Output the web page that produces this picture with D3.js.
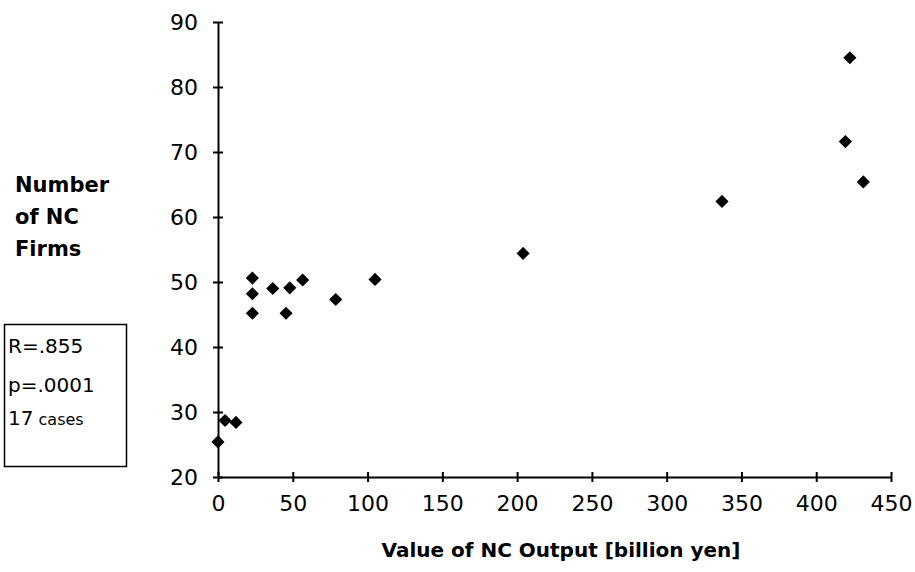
<!DOCTYPE html>
<html>
<head>
<meta charset="utf-8">
<script src="https://cdn.jsdelivr.net/npm/d3@7"></script>
<style>
  body { margin: 0; background: #fff; }
  text { fill: #000; }
</style>
</head>
<body>
<div id="main"></div>
<script>
const ctx = {
    w: 915,
    h: 572,
};

// valeurs (milliards de yens, nombre d'entreprises)
const outputValues = [23, 23, 23, 36.6, 48, 56.6, 45.5, 78.7, 12, 0, 4.7, 105, 204, 337, 422.5, 419.5, 431.5];
const firmCounts   = [50.6, 48.2, 45.2, 49.0, 49.1, 50.3, 45.2, 47.3, 28.4, 25.4, 28.7, 50.4, 54.4, 62.4, 84.5, 71.6, 65.4];

const xTicks = [0, 50, 100, 150, 200, 250, 300, 350, 400, 450];
const yTicks = [20, 30, 40, 50, 60, 70, 80, 90];
const yTitleLines = ["Number", "of NC", "Firms"];
// [texte principal, suffixe en petit]
const statsLines = [["R=.855", ""], ["p=.0001", ""], ["17", " cases"]];
const xTitle = "Value of NC Output [billion yen]";

function createChart(svgEl) {
    const left = 218, right = 891, top = 22, bottom = 477;

    const x = d3.scaleLinear().domain([0, 450]).range([left, right]);
    const y = d3.scaleLinear().domain([20, 90]).range([bottom, top]);

    // axe Y
    const gy = svgEl.append("g")
        .attr("transform", `translate(${left},0)`)
        .call(d3.axisLeft(y).tickValues(yTicks).tickSize(5).tickSizeOuter(0).tickPadding(15));
    gy.selectAll(".tick line").attr("x1", 5);

    // axe X
    const gx = svgEl.append("g")
        .attr("transform", `translate(0,${bottom})`)
        .call(d3.axisBottom(x).tickValues(xTicks).tickSize(5).tickSizeOuter(0).tickPadding(13));
    gx.selectAll(".tick line").attr("y1", -5);

    svgEl.selectAll(".domain").attr("stroke", "#000").attr("stroke-width", 2);
    svgEl.selectAll(".tick line").attr("stroke", "#000").attr("stroke-width", 2);
    svgEl.selectAll(".tick text")
        .attr("font-family", "DejaVu Sans")
        .attr("font-size", 22)
        .attr("fill", "#000");

    // points
    const diamond = d3.symbol().type(d3.symbolDiamond2).size(110);
    svgEl.append("g")
        .selectAll("path")
        .data(outputValues.map((v, i) => ({ x: v, y: firmCounts[i] })))
        .enter().append("path")
        .attr("d", diamond)
        .attr("transform", d => `translate(${x(d.x)},${y(d.y)})`)
        .attr("fill", "#000");

    // titre axe Y
    svgEl.append("g")
        .selectAll("text")
        .data(yTitleLines)
        .enter().append("text")
        .attr("x", 15)
        .attr("y", (d, i) => 192 + i * 32)
        .attr("font-family", "DejaVu Sans")
        .attr("font-weight", "bold")
        .attr("font-size", 21)
        .text(d => d);

    // titre axe X
    svgEl.append("text")
        .attr("x", 561)
        .attr("y", 557)
        .attr("text-anchor", "middle")
        .attr("font-family", "DejaVu Sans")
        .attr("font-weight", "bold")
        .attr("font-size", 20)
        .text(xTitle);

    // encadré statistiques
    svgEl.append("rect")
        .attr("x", 4.5).attr("y", 324.5)
        .attr("width", 122).attr("height", 142)
        .attr("fill", "none")
        .attr("stroke", "#000")
        .attr("stroke-width", 1.5);
    const stats = svgEl.append("g")
        .selectAll("text")
        .data(statsLines)
        .enter().append("text")
        .attr("x", 8)
        .attr("y", (d, i) => [353, 392, 425][i])
        .attr("font-family", "DejaVu Sans")
        .attr("font-size", 20);
    stats.append("tspan").text(d => d[0]);
    stats.append("tspan").attr("font-size", 16).text(d => d[1]);
}

function createViz() {
    const svgEl = d3.select("#main").append("svg")
        .attr("width", ctx.w)
        .attr("height", ctx.h);
    createChart(svgEl);
}

createViz();
</script>
</body>
</html>
